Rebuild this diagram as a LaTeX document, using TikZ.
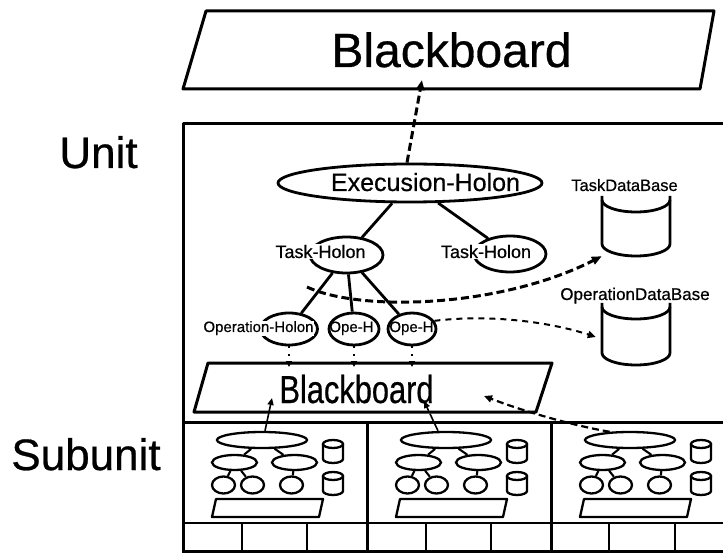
\documentclass[tikz,border=0pt]{standalone}
\usepackage{graphicx}
\usepackage{fontspec}
\setmainfont[FakeBold=0.6]{Liberation Sans}
\usetikzlibrary{arrows.meta,shapes.geometric,calc}
\begin{document}
\begin{tikzpicture}[x=1pt,y=-1pt,
  bdr/.style={line width=3pt, line join=round},
  hol/.style={ellipse, draw, line width=2.8pt, inner sep=0pt},
  mini/.style={ellipse, draw, line width=2.3pt, inner sep=0pt},
  conn/.style={line width=2.8pt},
  miniconn/.style={line width=2.1pt},
  tl/.style={inner sep=0.5pt, fill=white, anchor=base},
  thickdash/.style={line width=3pt, dash pattern=on 8pt off 4pt, -{Triangle[length=10pt,width=8pt]}},
  thindash/.style={line width=2pt, dash pattern=on 6pt off 5pt, -{Triangle[length=8pt,width=7pt]}},
  dotarrow/.style={line width=2pt, dash pattern=on 2pt off 6pt, -{Triangle[length=6pt,width=6pt]}},
  dbline/.style={line width=2.8pt, line join=round}
]
\useasboundingbox (0,0) rectangle (723,553);
\begin{scope}
\clip (0,0) rectangle (723,553);

% top blackboard
\draw[bdr] (206,11) -- (714,11) -- (700,89) -- (183,89) -- cycle;
\node[anchor=base, inner sep=0pt, font=\fontsize{48}{48}\selectfont] (bbtop) at (451.5,67) {Blackboard};
\coordinate (bbtopin) at (422,80);

% side labels
\node[anchor=base, font=\fontsize{44}{44}\selectfont] (unitlbl) at (98.5,168) {Unit};
\node[anchor=base, font=\fontsize{44}{44}\selectfont] (sublbl) at (86,470) {Subunit};

% unit box and subunit grid
\draw[bdr] (740,124) -- (183,124) -- (183,560);
\draw[bdr] (183,422) -- (740,422);
\draw[line width=2.5pt] (183,523) -- (740,523);
\draw[bdr] (183,551.5) -- (740,551.5);
\foreach \x in {367,551} \draw[bdr] (\x,422) -- (\x,553);
\foreach \x in {242,307,426,491,609,675} \draw[line width=2.5pt] (\x,523) -- (\x,553);

% holons (shapes)
\node[hol, minimum width=264pt, minimum height=38pt] (exec) at (410,183) {};
\node[hol, minimum width=73pt, minimum height=36pt] (taskL) at (346.5,255) {};
\node[hol, minimum width=72pt, minimum height=36pt] (taskR) at (510,254) {};
\node[hol, minimum width=57pt, minimum height=32pt] (op1) at (289,329) {};
\node[hol, minimum width=50pt, minimum height=32pt] (op2) at (354,329) {};
\node[hol, minimum width=48pt, minimum height=32pt] (op3) at (412,329) {};

% holon connectors
\draw[conn] (exec) -- (taskL);
\draw[conn] (exec) -- (taskR);
\draw[conn] (taskL) -- (op1);
\draw[conn] (taskL) -- (op2);
\draw[conn] (taskL) -- (op3);

% holon texts
\node[anchor=base, inner sep=0.5pt, font=\fontsize{25}{25}\selectfont] (exect) at (425.5,191) {Execusion-Holon};
\node[tl, font=\fontsize{18}{18}\selectfont] (taskLt) at (320.5,258) {Task-Holon};
\node[tl, font=\fontsize{18}{18}\selectfont] (taskRt) at (486,258) {Task-Holon};
\node[tl, font=\fontsize{15}{15}\selectfont] (op1t) at (258.5,332) {Operation-Holon};
\node[anchor=base, inner sep=0.5pt, font=\fontsize{15}{15}\selectfont] (op2t) at (351.5,332) {Ope-H};
\node[anchor=base, inner sep=0.5pt, font=\fontsize{15}{15}\selectfont] (op3t) at (411.5,332) {Ope-H};

% databases
\node[anchor=base, inner sep=0pt, font=\fontsize{16.5}{16.5}\selectfont] (tdbt) at (624.5,191) {TaskDataBase};
\node[anchor=base, inner sep=0pt, font=\fontsize{17}{17}\selectfont] (odbt) at (635,300) {OperationDataBase};
\node[minimum width=68pt, minimum height=60pt, inner sep=0pt] (tdb) at (636,226) {};
\node[minimum width=68pt, minimum height=62pt, inner sep=0pt] (odb) at (636,334) {};
\draw[dbline] (602,196) -- (602,244) arc[start angle=180,end angle=0,x radius=34,y radius=12] -- (670,196);
\draw[dbline] (602,200) arc[start angle=180,end angle=0,x radius=34,y radius=12];
\draw[dbline] (602,303) -- (602,353) arc[start angle=180,end angle=0,x radius=34,y radius=12] -- (670,303);
\draw[dbline] (602,307) arc[start angle=180,end angle=0,x radius=34,y radius=12];

% middle blackboard
\draw[bdr] (208,363) -- (552,363) -- (536,412) -- (194,412) -- cycle;
\node[anchor=base, inner sep=0pt, font=\fontsize{39}{39}\selectfont] (bbmid) at (356.5,403) {\scalebox{0.79}[1]{Blackboard}};
\coordinate (bbmtop) at (370,367);
\coordinate (bbmA) at (272,398);
\coordinate (bbmB) at (424,401);
\coordinate (bbmC) at (484,396);

% subunits
\foreach \dx/\i in {0/1,184/2,368/3}{
 \begin{scope}[xshift=\dx pt]
  \node[mini, minimum width=90pt, minimum height=16pt] (big\i) at (262,440) {};
  \node[mini, minimum width=45pt, minimum height=15pt] (ml\i) at (234.5,462.5) {};
  \node[mini, minimum width=45pt, minimum height=15pt] (mr\i) at (294.5,462.5) {};
  \node[mini, minimum width=23pt, minimum height=17pt] (ca\i) at (223.5,485) {};
  \node[mini, minimum width=23pt, minimum height=17pt] (cb\i) at (252.5,485) {};
  \node[mini, minimum width=23pt, minimum height=17pt] (cc\i) at (291.5,485) {};
  \draw[miniconn] (big\i) -- (ml\i);
  \draw[miniconn] (big\i) -- (mr\i);
  \draw[miniconn] (ml\i) -- (ca\i);
  \draw[miniconn] (ml\i) -- (cb\i);
  \draw[miniconn] (mr\i) -- (cc\i);
  \foreach \cy in {444,476}{
    \draw[line width=2.3pt] (333,\cy) ellipse [x radius=10, y radius=4];
    \draw[line width=2.3pt] (323,\cy) -- (323,\cy+15) arc[start angle=180,end angle=0,x radius=10,y radius=4] -- (343,\cy);
  }
  \draw[line width=2.3pt, line join=round] (216,499) -- (323,499) -- (319,517) -- (212,517) -- cycle;
 \end{scope}
}

% information flows
\draw[thickdash] ([xshift=-3pt]exec.north) -- (bbtopin);
\coordinate (tstart) at (307,287);
\draw[thickdash] (tstart) .. controls (360,312) and (500,308) .. (tdb.south west);
\draw[thindash] (op3.20) .. controls (490,314) and (550,322) .. ([xshift=-6pt,yshift=-3pt]odb.west);
\draw[dotarrow] (op1.south) -- (op1.south |- bbmtop);
\draw[dotarrow] (op2.south) -- (op2.south |- bbmtop);
\draw[dotarrow] (op3.south) -- (op3.south |- bbmtop);
\draw[line width=1.6pt, -{Triangle[length=7pt,width=6pt]}] ([xshift=3pt]big1.north) -- (bbmA);
\draw[line width=1.6pt, dash pattern=on 8pt off 3pt, -{Triangle[length=7pt,width=6pt]}] ([xshift=-8pt]big2.north) -- (bbmB);
\draw[line width=2.2pt, dash pattern=on 7pt off 4pt, -{Triangle[length=8pt,width=7pt]}] (big3.158) .. controls (570,425) and (520,410) .. (bbmC);
\end{scope}
\end{tikzpicture}
\end{document}
